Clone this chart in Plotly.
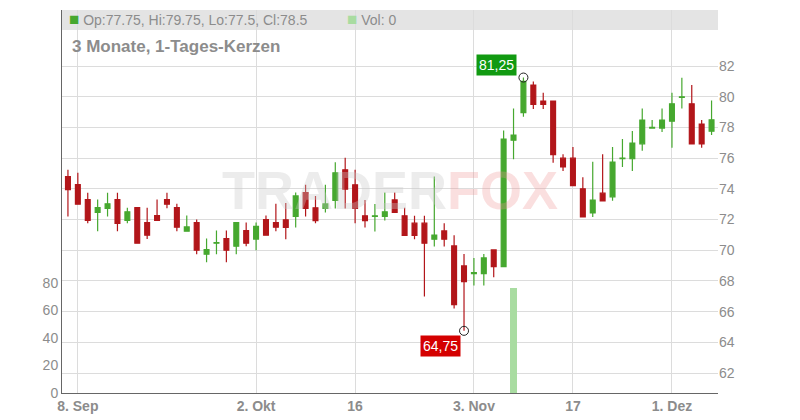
import plotly.graph_objects as go

idx = list(range(-1, 65))
opens = [74.8,74.27,73.3,72.47,72.73,73.3,71.95,72.77,71.8,72.26,73.3,72.77,71.24,71.8,69.74,70.46,70.76,70.26,71.28,70.73,72.0,71.8,
         71.98,72.2,73.76,72.76,72.72,73.24,75.24,74.26,72.24,72.2,72.2,73.28,72.24,71.76,71.76,70.72,71.26,70.28,68.98,68.48,68.48,70.02,68.93,
         77.17,78.96,80.76,79.72,79.72,76.0,76.0,74.0,72.43,73.72,73.48,75.96,75.96,76.93,77.96,77.96,78.41,79.96,79.54,78.22,77.75]
closes = [73.95,73.0,71.95,72.77,73.03,71.75,72.5,70.46,70.98,71.95,73.0,71.5,71.52,70.0,70.04,70.5,70.0,71.8,70.46,71.55,70.98,71.5,
          71.48,73.54,72.72,71.93,73.02,75.04,73.98,72.72,71.93,72.24,72.5,72.46,70.96,70.96,70.46,70.98,70.72,66.46,67.96,68.54,69.5,68.93,77.24,
          77.5,81.0,79.5,79.5,76.22,75.43,74.2,72.17,73.26,73.22,75.74,76.0,76.98,78.48,78.0,78.48,79.54,80.0,76.93,76.93,78.5]
highs = [75.24,75.05,73.75,73.3,73.75,73.75,72.77,72.77,72.77,73.3,73.75,73.03,72.26,72.0,70.76,71.28,71.28,71.8,71.8,71.8,72.26,73.03,
         73.07,73.76,74.26,73.54,74.26,75.74,76.02,75.24,73.28,73.02,73.76,73.76,72.76,72.24,72.24,74.8,71.76,70.98,69.76,69.5,69.76,70.02,77.8,
         79.24,81.25,81.0,80.26,79.72,76.26,76.72,74.76,75.76,76.26,76.72,77.24,77.76,79.24,78.48,79.24,80.26,81.24,80.76,78.48,79.75]
lows = [72.2,73.0,71.75,71.24,72.2,71.24,71.75,70.46,70.73,71.95,72.73,71.24,71.24,69.74,69.22,69.74,69.22,69.74,70.26,70.0,70.98,71.24,
        70.72,71.48,72.2,71.76,72.46,72.72,72.72,71.76,71.48,71.22,71.93,72.46,70.96,70.72,66.98,70.24,70.24,66.2,64.75,67.7,67.7,68.24,68.93,
        75.93,78.7,79.2,79.2,75.7,75.17,74.2,72.17,72.17,73.22,73.22,75.43,75.17,76.48,77.96,77.7,76.67,79.24,76.93,76.67,77.5]
volume = [0]*66
volume[45] = 76
tick_pos = [0, 18, 28, 40, 50, 60]
tick_text = ["<b>8. Sep</b>", "<b>2. Okt</b>", "<b>16</b>", "<b>3. Nov</b>", "<b>17</b>", "<b>1. Dez</b>"]
price_ticks = [62, 64, 66, 68, 70, 72, 74, 76, 78, 80, 82]
vol_ticks = [0, 20, 40, 60, 80]

GREEN = "#46a82f"; RED = "#b2161a"; GRAY = "#8c8c8c"

fig = go.Figure()
fig.add_trace(go.Bar(x=idx, y=volume, marker_color="#a9dca1", marker_line_width=0,
                     width=0.7, yaxis="y2", showlegend=False, hoverinfo="skip"))
fig.add_trace(go.Candlestick(x=idx, open=opens, high=highs, low=lows, close=closes,
                             increasing=dict(line=dict(color=GREEN, width=1.2), fillcolor=GREEN),
                             decreasing=dict(line=dict(color=RED, width=1.2), fillcolor=RED),
                             whiskerwidth=0, showlegend=False, yaxis="y"))
hi_i = highs.index(max(highs)); lo_i = lows.index(min(lows))
fig.add_trace(go.Scatter(x=[idx[hi_i], idx[lo_i]], y=[highs[hi_i], lows[lo_i]], mode="markers",
                         marker=dict(size=9, color="rgba(0,0,0,0)", line=dict(color="#222", width=1)),
                         showlegend=False, yaxis="y"))

fig.update_layout(
    width=800, height=420, margin=dict(l=62, r=82, t=10, b=27, autoexpand=False),
    paper_bgcolor="white", plot_bgcolor="white", bargap=0,
    xaxis=dict(range=[-1.6, 64.65], tickvals=tick_pos, ticktext=tick_text, showgrid=True, automargin=False,
               gridcolor="#dcdcdc", zeroline=False, rangeslider=dict(visible=False),
               tickfont=dict(family="Liberation Sans", size=14, color=GRAY), ticks="",
               showline=True, linecolor="#666", linewidth=1, mirror=False),
    yaxis=dict(side="right", range=[60.7, 85.65], tickvals=price_ticks, showgrid=True, automargin=False,
               gridcolor="#dcdcdc", zeroline=False, ticks="",
               tickfont=dict(family="Liberation Sans", size=14, color=GRAY)),
    yaxis2=dict(overlaying="y", side="left", range=[0, 278], tickvals=vol_ticks, showgrid=False, automargin=False,
                zeroline=False, showline=True, linecolor="#666", ticks="",
                tickfont=dict(family="Liberation Sans", size=14, color=GRAY)),
    shapes=[dict(type="rect", xref="paper", yref="paper", x0=0, x1=1, y0=0.948, y1=1.0,
                 fillcolor="#e4e4e4", line=dict(width=0), layer="below")],
    font=dict(family="Liberation Sans"),
)
ann = [
    dict(x=0.008, y=0.974, xref="paper", yref="paper", text="<span style='color:#46a82f;font-size:17px'>■</span> Op:77.75, Hi:79.75, Lo:77.5, Cl:78.5",
         showarrow=False, xanchor="left", yanchor="middle", font=dict(size=14, color=GRAY)),
    dict(x=0.432, y=0.974, xref="paper", yref="paper", text="<span style='color:#a9dca1;font-size:17px'>■</span> Vol: 0",
         showarrow=False, xanchor="left", yanchor="middle", font=dict(size=14, color=GRAY)),
    dict(x=0.012, y=0.905, xref="paper", yref="paper", text="<b>3 Monate, 1-Tages-Kerzen</b>",
         showarrow=False, xanchor="left", yanchor="middle", font=dict(size=17, color=GRAY)),
    dict(x=0.5, y=0.53, xref="paper", yref="paper",
         text="<b><span style='color:rgba(200,200,200,0.35)'>TRADER</span><span style='color:rgba(240,150,150,0.3)'>FOX</span></b>",
         showarrow=False, font=dict(size=54)),
    dict(x=idx[hi_i] - 2.7, y=highs[hi_i] + 0.8, text="81,25", showarrow=False, bgcolor="#119a11",
         font=dict(size=14, color="white"), borderpad=2),
    dict(x=idx[lo_i] - 2.4, y=lows[lo_i] - 1.0, text="64,75", showarrow=False, bgcolor="#d40000",
         font=dict(size=14, color="white"), borderpad=2),
]
fig.update_layout(annotations=ann)
fig.write_html("out.html", config={"displayModeBar": False},
               post_script="document.body.style.margin='0';document.body.style.overflow='hidden';")
